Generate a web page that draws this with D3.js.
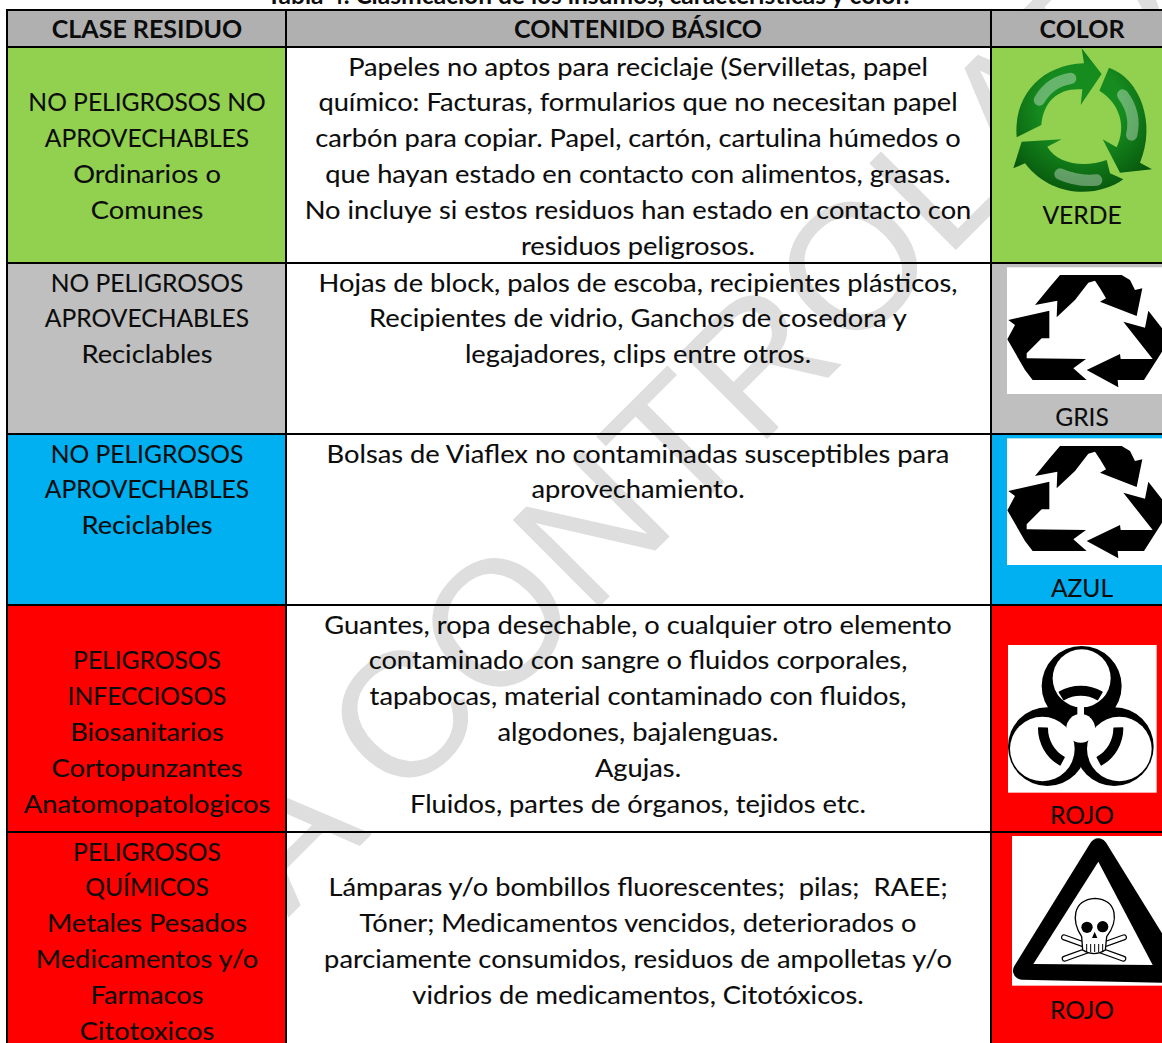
<!DOCTYPE html>
<html>
<head>
<meta charset="utf-8">
<script src="https://cdn.jsdelivr.net/npm/d3@7"></script>
<style>
  html, body { margin: 0; padding: 0; background: #fff; overflow: hidden; }
  svg { display: block; }
  text { font-family: Lato, "Open Sans", sans-serif; fill: #0c0c0c; }
  .cuerpo { stroke: #0c0c0c; stroke-width: 0.1px; }
</style>
</head>
<body>
<div id="chart"></div>
<script>
const titulo = "Tabla 4. Clasificación de los insumos, características y color.";
const encabezados = ["CLASE RESIDUO", "CONTENIDO BÁSICO", "COLOR"];

// blank strings keep the vertical alignment of each cell
const clases = [
  ["", "NO PELIGROSOS NO", "APROVECHABLES", "Ordinarios o", "Comunes"],
  ["NO PELIGROSOS", "APROVECHABLES", "Reciclables"],
  ["NO PELIGROSOS", "APROVECHABLES", "Reciclables"],
  ["", "PELIGROSOS", "INFECCIOSOS", "Biosanitarios", "Cortopunzantes", "Anatomopatologicos"],
  ["PELIGROSOS", "QUÍMICOS", "Metales Pesados", "Medicamentos y/o", "Farmacos", "Citotoxicos"]
];
const contenidos = [
  ["Papeles no aptos para reciclaje (Servilletas, papel",
   "químico: Facturas, formularios que no necesitan papel",
   "carbón para copiar. Papel, cartón, cartulina húmedos o",
   "que hayan estado en contacto con alimentos, grasas.",
   "No incluye si estos residuos han estado en contacto con",
   "residuos peligrosos."],
  ["Hojas de block, palos de escoba, recipientes plásticos,",
   "Recipientes de vidrio, Ganchos de cosedora y",
   "legajadores, clips entre otros."],
  ["Bolsas de Viaflex no contaminadas susceptibles para",
   "aprovechamiento."],
  ["Guantes, ropa desechable, o cualquier otro elemento",
   "contaminado con sangre o fluidos corporales,",
   "tapabocas, material contaminado con fluidos,",
   "algodones, bajalenguas.",
   "Agujas.",
   "Fluidos, partes de órganos, tejidos etc."],
  ["",
   "Lámparas y/o bombillos fluorescentes;  pilas;  RAEE;",
   "Tóner; Medicamentos vencidos, deteriorados o",
   "parciamente consumidos, residuos de ampolletas y/o",
   "vidrios de medicamentos, Citotóxicos."]
];
const etiquetas = ["VERDE", "GRIS", "AZUL", "ROJO", "ROJO"];
const filas = d3.range(etiquetas.length);

// layout
const width = 1162, height = 1043;
const colX = d3.scaleOrdinal().domain([0, 1, 2]).range([7, 286, 991]);
const colCentro = d3.scaleOrdinal().domain([0, 1, 2]).range([147, 638, 1082]);
const rowTop = d3.scaleOrdinal().domain(filas).range([47, 263, 434, 605, 832]);
const rowBottom = d3.scaleOrdinal().domain(filas).range([263, 434, 605, 832, 1060]);
const etiquetaY = d3.scaleOrdinal().domain(filas).range([215, 417, 588, 815, 1010]);
const fondo = d3.scaleOrdinal().domain(filas).range(["#92d050", "#bfbfbf", "#00b0f0", "#ff0000", "#ff0000"]);
const lineHeight = 35.8, fontSize = 25.5;

// Lato is narrower than the original font in lower case and wider in capitals
const ancho = d => d === d.toUpperCase() ? 0.965 : 1.07;

const svg = d3.select("#chart").append("svg")
  .attr("width", width)
  .attr("height", height);

const defs = svg.append("defs");
const grad = defs.append("radialGradient").attr("id", "verde")
  .attr("gradientUnits", "userSpaceOnUse")
  .attr("cx", 365).attr("cy", 320).attr("r", 270);
grad.append("stop").attr("offset", "0.45").attr("stop-color", "#168c1f");
grad.append("stop").attr("offset", "1").attr("stop-color", "#07560c");

// watermark sits under the cell fills
svg.append("text")
  .attr("transform", "translate(584,535) rotate(-45)")
  .attr("text-anchor", "middle")
  .attr("dominant-baseline", "central")
  .style("font-family", "'Liberation Sans', sans-serif")
  .style("font-size", "178px")
  .style("fill", "#dedede")
  .text("COPIA CONTROLADA");

// title, cut by the top of the picture
svg.append("text")
  .attr("x", 588).attr("y", 4)
  .attr("text-anchor", "middle")
  .style("font-size", "24.5px").style("font-weight", 700)
  .text(titulo);

// header
svg.selectAll(".head").data(encabezados).enter().append("rect").attr("class", "head")
  .attr("x", (d, i) => colX(i)).attr("y", 10)
  .attr("width", (d, i) => i < 2 ? colX(i + 1) - colX(i) : width - colX(i) + 20)
  .attr("height", rowTop(0) - 10)
  .attr("fill", "#b0b0b0");

// fills of the first and last column
svg.selectAll(".f0").data(filas).enter().append("rect").attr("class", "f0")
  .attr("x", colX(0)).attr("y", d => rowTop(d))
  .attr("width", colX(1) - colX(0)).attr("height", d => rowBottom(d) - rowTop(d))
  .attr("fill", d => fondo(d));
svg.selectAll(".f2").data(filas).enter().append("rect").attr("class", "f2")
  .attr("x", colX(2)).attr("y", d => rowTop(d))
  .attr("width", width - colX(2) + 20).attr("height", d => rowBottom(d) - rowTop(d))
  .attr("fill", d => fondo(d));

// grid lines
const rejilla = svg.append("g").attr("stroke", "#000").attr("stroke-width", 2);
rejilla.selectAll(".v").data(colX.domain()).enter().append("line")
  .attr("x1", d => colX(d)).attr("x2", d => colX(d)).attr("y1", 10).attr("y2", height);
rejilla.selectAll(".h").data([10].concat(filas.map(d => rowTop(d)))).enter().append("line")
  .attr("x1", 6).attr("x2", width).attr("y1", d => d).attr("y2", d => d);

// header labels
svg.selectAll(".headText").data(encabezados).enter().append("text").attr("class", "headText")
  .attr("x", (d, i) => colCentro(i)).attr("y", 37.5)
  .attr("text-anchor", "middle")
  .style("font-size", "25px").style("font-weight", 700)
  .text(d => d);

function celda(lineas, col) {
  filas.forEach(f => {
    svg.append("g").selectAll("text").data(lineas[f]).enter().append("text")
      .attr("class", "cuerpo")
      .attr("transform", (d, i) => `translate(${colCentro(col)},${rowTop(f) + 28.5 + i * lineHeight}) scale(${ancho(d)},1)`)
      .attr("text-anchor", "middle")
      .style("font-size", fontSize + "px")
      .style("white-space", "pre")
      .text(d => d);
  });
}
celda(clases, 0);
celda(contenidos, 1);

svg.selectAll(".etq").data(etiquetas).enter().append("text").attr("class", "etq cuerpo")
  .attr("transform", (d, i) => `translate(${colCentro(2)},${etiquetaY(i) + 9}) scale(${ancho(d)},1)`)
  .attr("text-anchor", "middle")
  .style("font-size", fontSize + "px")
  .text(d => d);

// icons: shapes are traced in 3x pixels of a crop starting at the given corner
function icono(x, y) {
  return svg.append("g").attr("transform", `translate(${x},${y}) scale(${1 / 3})`);
}
const linea = d3.line().curve(d3.curveLinearClosed);

function reciclaVerde(g) {
  const flechas = [
    "M170,412 C160,290 240,195 372,190 L365,145 L425,222 L362,315 L367,268 C300,262 250,300 244,375 Z",
    "M418,272 L447,203 C540,235 590,370 540,488 L576,508 L480,518 L428,418 L470,442 C500,380 480,310 418,272 Z",
    "M160,505 L185,425 L305,418 L262,440 C290,490 370,505 440,480 L450,520 L490,538 C420,590 280,600 195,490 Z"
  ];
  g.selectAll(".fl").data(flechas).enter().append("path").attr("d", d => d).attr("fill", "url(#verde)");
  const brillos = ["M238,300 Q270,245 332,235", "M488,285 Q530,340 515,405", "M300,522 Q350,545 410,540"];
  g.selectAll(".br").data(brillos).enter().append("path").attr("d", d => d)
    .attr("fill", "none").attr("stroke", "#fff").attr("stroke-opacity", 0.35)
    .attr("stroke-width", 34).attr("stroke-linecap", "round");
}

const flechasNegras = [
  [[300,45],[485,45],[510,60],[525,90],[547,85],[530,168],[420,125],[438,115],[420,85],[405,62],[385,68],[345,120],[290,172],[292,122],[225,135],[270,80]],
  [[145,180],[268,152],[268,235],[245,235],[200,280],[200,295],[378,297],[340,325],[380,360],[218,360],[195,330],[142,238],[165,195]],
  [[490,185],[555,203],[565,152],[606,205],[606,275],[552,360],[473,360],[475,382],[380,330],[480,282],[482,297],[578,297]]
];
function reciclaNegro(g) {
  g.append("rect").attr("x", 141).attr("y", 22).attr("width", 480).attr("height", 380).attr("fill", "#fff");
  g.selectAll(".fn").data(flechasNegras).enter().append("path").attr("d", d => linea(d)).attr("fill", "#000");
}

function biohazard(g) {
  g.append("rect").attr("x", 144).attr("y", 135).attr("width", 446).attr("height", 443).attr("fill", "#fff");
  const negros = [[365, 258, 120], [262, 440, 118], [463, 440, 118]];
  const blancos = [[365, 235, 87], [247, 447, 97], [478, 447, 97]];
  g.selectAll(".bn").data(negros).enter().append("circle")
    .attr("cx", d => d[0]).attr("cy", d => d[1]).attr("r", d => d[2]).attr("fill", "#000");
  g.selectAll(".bb").data(blancos).enter().append("circle")
    .attr("cx", d => d[0]).attr("cy", d => d[1]).attr("r", d => d[2]).attr("fill", "#fff");
  const arco = d3.arc().innerRadius(98).outerRadius(128).cornerRadius(2);
  const centro = g.append("g").attr("transform", "translate(362,385)");
  centro.selectAll("path").data([0, 2 * Math.PI / 3, 4 * Math.PI / 3]).enter().append("path")
    .attr("d", a => arco({ startAngle: a - 0.55, endAngle: a + 0.55 }))
    .attr("fill", "#000");
  centro.selectAll("line").data([0, 120, 240]).enter().append("line")
    .attr("transform", d => `rotate(${d})`)
    .attr("y1", 0).attr("y2", -70)
    .attr("stroke", "#fff").attr("stroke-width", d => d ? 6 : 20);
  centro.append("circle").attr("r", 43).attr("fill", "#fff");
}

function calavera(g) {
  g.append("rect").attr("x", 156).attr("y", 708).attr("width", 480).attr("height", 449).attr("fill", "#fff");
  g.append("path").attr("d", linea([[415, 742], [186, 1112], [650, 1122]]))
    .attr("fill", "#000").attr("stroke", "#000").attr("stroke-width", 54).attr("stroke-linejoin", "round");
  g.append("path").attr("d", linea([[415, 785], [220, 1092], [578, 1095]])).attr("fill", "#fff");
  const huesos = [[[312, 1012], [490, 1076]], [[492, 1012], [314, 1076]]];
  g.selectAll(".hn").data(huesos).enter().append("line")
    .attr("x1", d => d[0][0]).attr("y1", d => d[0][1]).attr("x2", d => d[1][0]).attr("y2", d => d[1][1])
    .attr("stroke", "#000").attr("stroke-width", 18).attr("stroke-linecap", "round");
  g.selectAll(".hb").data(huesos).enter().append("line")
    .attr("x1", d => d[0][0]).attr("y1", d => d[0][1]).attr("x2", d => d[1][0]).attr("y2", d => d[1][1])
    .attr("stroke", "#fff").attr("stroke-width", 11).attr("stroke-linecap", "round");
  g.append("path")
    .attr("d", "M365,1010 C335,965 335,900 405,895 C475,900 475,965 440,1010 L436,1050 Q402,1072 368,1050 Z")
    .attr("fill", "#fff").attr("stroke", "#000").attr("stroke-width", 4);
  g.selectAll(".ojo").data([[381, 982], [428, 980]]).enter().append("circle")
    .attr("cx", d => d[0]).attr("cy", d => d[1]).attr("r", 17).attr("fill", "#000");
  g.append("path").attr("d", "M404,995 L396,1014 L412,1014 Z").attr("fill", "#000");
  g.selectAll(".diente").data([380, 392, 404, 416, 428]).enter().append("line")
    .attr("x1", d => d).attr("x2", d => d).attr("y1", 1032).attr("y2", 1056)
    .attr("stroke", "#000").attr("stroke-width", 3);
}

reciclaVerde(icono(960, 0));
reciclaNegro(icono(960, 260));
reciclaNegro(icono(960, 431));
biohazard(icono(960, 600));
calavera(icono(960, 600));
</script>
</body>
</html>
